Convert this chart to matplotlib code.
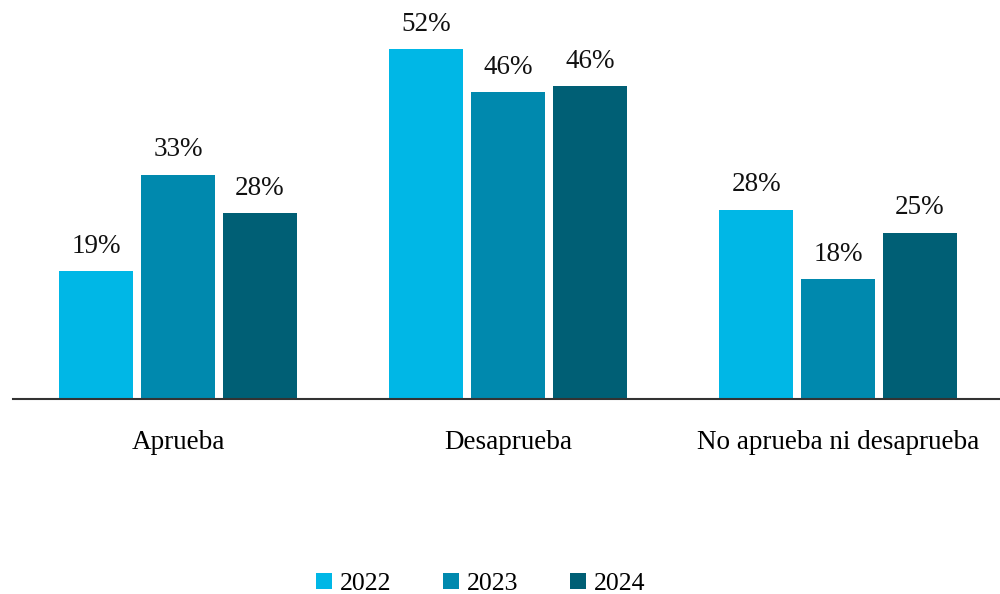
import numpy as np
import matplotlib.pyplot as plt

categories = ["Aprueba", "Desaprueba", "No aprueba ni desaprueba"]
years = ["2022", "2023", "2024"]
values = {
    "2022": [19.0, 52.0, 28.1],
    "2023": [33.3, 45.6, 17.8],
    "2024": [27.6, 46.5, 24.7],
}
labels = {
    "2022": ["19%", "52%", "28%"],
    "2023": ["33%", "46%", "18%"],
    "2024": ["28%", "46%", "25%"],
}
colors = ["#00B7E6", "#0089AE", "#005F75"]

plt.rcParams['font.family'] = ['Liberation Serif', 'DejaVu Serif']

fig = plt.figure(figsize=(10, 5.94), dpi=100)
ax = fig.add_axes([0.013, 0.3283, 0.99, 0.657])

x = np.arange(len(categories))
width = 0.224
step = 0.248
for i, year in enumerate(years):
    bars = ax.bar(x + (i - 1) * step, values[year], width, color=colors[i], label=year)
    for b, lab in zip(bars, labels[year]):
        ax.annotate(lab, (b.get_x() + b.get_width() / 2, b.get_height()),
                    xytext=(0, 9), textcoords="offset points",
                    ha="center", va="bottom", fontsize=19.5, color="#111111")

ax.set_xlim(-0.5, 2.5)
ax.set_ylim(0, 58)
ax.set_yticks([])
ax.set_xticks(x)
ax.set_xticklabels(categories, fontsize=19.5)
ax.tick_params(axis="x", length=0, pad=22)
for s in ["top", "right", "left"]:
    ax.spines[s].set_visible(False)
ax.spines["bottom"].set_color("#333333")
ax.spines["bottom"].set_linewidth(1.5)

fig.legend(loc="center", bbox_to_anchor=(0.481, 0.017), ncol=3, frameon=False,
           fontsize=18.5, handlelength=0.62, handleheight=0.62, handletextpad=0.32,
           columnspacing=2.0)

fig.savefig("out.png")
